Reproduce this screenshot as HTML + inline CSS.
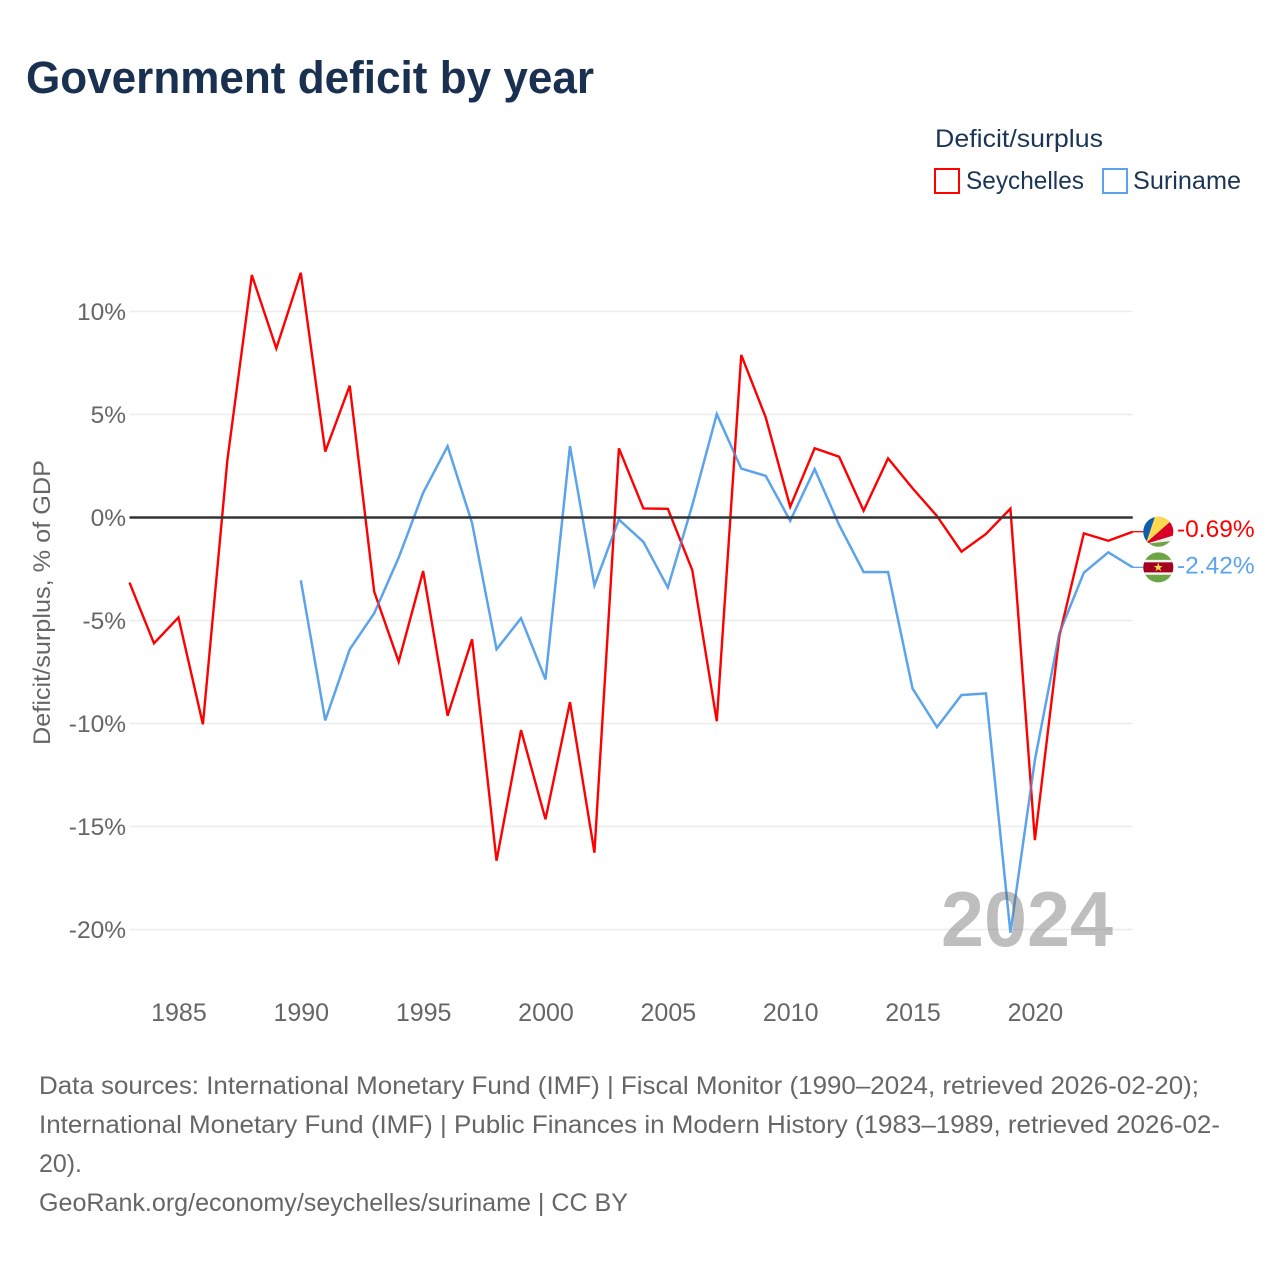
<!DOCTYPE html>
<html lang="en">
<head>
<meta charset="utf-8">
<title>Government deficit by year</title>
<style>
html,body{margin:0;padding:0;background:#fff;}
svg{display:block;font-family:"Liberation Sans",sans-serif;}
.tick{font-size:24.5px;fill:#666;}
.xtick{font-size:25px;fill:#666;}
.foot{font-size:25px;fill:#666;}
.leg{font-size:25px;fill:#1c3557;}
</style>
</head>
<body>
<svg id="chart" xmlns="http://www.w3.org/2000/svg" width="1280" height="1280" viewBox="0 0 1280 1280">
  <rect x="0" y="0" width="1280" height="1280" fill="#fff"/>
  <text x="26" y="93" font-size="45" font-weight="700" fill="#1a3050" textLength="568" lengthAdjust="spacingAndGlyphs">Government deficit by year</text>

  <g>
    <text class="leg" x="935" y="147" textLength="168" lengthAdjust="spacingAndGlyphs">Deficit/surplus</text>
    <rect x="935" y="169" width="24" height="24" fill="none" stroke="#ff0000" stroke-width="2"/>
    <text class="leg" x="966" y="189" textLength="118" lengthAdjust="spacingAndGlyphs">Seychelles</text>
    <rect x="1103" y="169" width="24" height="24" fill="none" stroke="#5ba4ec" stroke-width="2"/>
    <text class="leg" x="1133" y="189" textLength="108" lengthAdjust="spacingAndGlyphs">Suriname</text>
  </g>

  <g id="grid"></g>
  <g id="yticks"></g>
  <g id="xticks"></g>
  <text class="tick" transform="translate(50,745) rotate(-90)" x="0" y="0" textLength="285" lengthAdjust="spacingAndGlyphs">Deficit/surplus, % of GDP</text>

  <g id="series"></g>
  <g id="zero"></g>

  <text x="941" y="946" font-size="78" font-weight="700" fill="rgba(100,100,100,0.42)" textLength="172" lengthAdjust="spacingAndGlyphs">2024</text>

  <defs>
    <clipPath id="clip-sc" clipPathUnits="userSpaceOnUse"><circle cx="0" cy="0" r="15"/></clipPath>
  </defs>
  <g id="flag-sc">
    <g clip-path="url(#clip-sc)">
      <rect x="-16" y="-16" width="32" height="32" fill="#6da544"/>
      <polygon points="-16,16 -16,-16 -3,-16 -12,11" fill="#0d5eaf"/>
      <polygon points="-12,11 -3,-16 16,-16 16,-13.5" fill="#ffd84f"/>
      <polygon points="-16,14 -12,11 16,-13.5 16,3.5" fill="#d80027"/>
      <polygon points="-12,12 16,3.5 16,9" fill="#f0f0f0"/>
    </g>
  </g>
  <g id="flag-sr">
    <g clip-path="url(#clip-sc)">
      <rect x="-16" y="-16" width="32" height="32" fill="#6da544"/>
      <rect x="-16" y="-7.5" width="32" height="15" fill="#f0f0f0"/>
      <rect x="-16" y="-5" width="32" height="10" fill="#a2001d"/>
      <polygon points="0,-4.6 1.2,-1.4 4.5,-1.4 1.8,0.6 2.8,3.9 0,1.9 -2.8,3.9 -1.8,0.6 -4.5,-1.4 -1.2,-1.4" fill="#ffda44"/>
    </g>
  </g>

  <g>
    <text class="foot" x="39" y="1094" textLength="1160" lengthAdjust="spacingAndGlyphs">Data sources: International Monetary Fund (IMF) | Fiscal Monitor (1990–2024, retrieved 2026-02-20);</text>
    <text class="foot" x="39" y="1133" textLength="1181" lengthAdjust="spacingAndGlyphs">International Monetary Fund (IMF) | Public Finances in Modern History (1983–1989, retrieved 2026-02-</text>
    <text class="foot" x="39" y="1172" textLength="43" lengthAdjust="spacingAndGlyphs">20).</text>
    <text class="foot" x="39" y="1211" textLength="589" lengthAdjust="spacingAndGlyphs">GeoRank.org/economy/seychelles/suriname | CC BY</text>
  </g>
</svg>
<script>
const years = [1983,1984,1985,1986,1987,1988,1989,1990,1991,1992,1993,1994,1995,1996,1997,1998,1999,2000,2001,2002,2003,2004,2005,2006,2007,2008,2009,2010,2011,2012,2013,2014,2015,2016,2017,2018,2019,2020,2021,2022,2023,2024];
const seychellesValues = [-3.16,-6.11,-4.85,-10.04,2.79,11.77,8.21,11.88,3.2,6.4,-3.6,-7.0,-2.6,-9.62,-5.91,-16.66,-10.32,-14.65,-8.96,-16.27,3.36,0.44,0.42,-2.56,-9.89,7.89,4.86,0.52,3.36,2.95,0.33,2.87,1.42,0.07,-1.66,-0.8,0.43,-15.66,-5.75,-0.77,-1.13,-0.69];
const surinameValues = [null,null,null,null,null,null,null,-3.05,-9.85,-6.4,-4.65,-1.95,1.2,3.46,-0.27,-6.4,-4.89,-7.86,3.46,-3.3,-0.1,-1.18,-3.4,0.6,5.02,2.38,2.02,-0.16,2.35,-0.36,-2.65,-2.65,-8.3,-10.18,-8.62,-8.54,-20.15,-11.77,-5.62,-2.68,-1.69,-2.42];
const yTickValues = [10,5,0,-5,-10,-15,-20];
const xTickYears = [1985,1990,1995,2000,2005,2010,2015,2020];

const NS = 'http://www.w3.org/2000/svg';
const xScale = function (year) { return 129.5 + 24.47 * (year - 1983); };
const yScale = function (v) { return 517.5 - 20.6 * v; };
const plotLeft = xScale(1983);
const plotRight = xScale(2024);

function make(parent, tag, attrs, text) {
  const el = document.createElementNS(NS, tag);
  for (const k in attrs) { el.setAttribute(k, attrs[k]); }
  if (text !== undefined) { el.textContent = text; }
  document.getElementById(parent).appendChild(el);
  return el;
}

yTickValues.forEach(function (v) {
  if (v !== 0) {
    const g = make('grid', 'line', {x1: plotLeft, x2: plotRight, y1: yScale(v), y2: yScale(v), stroke: '#ececec', 'stroke-width': 1.5});
    
    
  }
  const t = make('yticks', 'text', {x: 126, y: yScale(v) + 8.5, 'text-anchor': 'end', 'class': 'tick'}, v + '%');
  
  
});

xTickYears.forEach(function (yr) {
  const t = make('xticks', 'text', {x: xScale(yr) + 0.5, y: 1021, 'text-anchor': 'middle', 'class': 'xtick'}, String(yr));
  
  
});

function linePath(values) {
  let d = '';
  values.forEach(function (v, i) {
    if (v === null) { return; }
    d += (d === '' ? 'M' : 'L') + xScale(years[i]).toFixed(2) + ' ' + yScale(v).toFixed(2);
  });
  return d;
}

const surLine = make('series', 'path', {d: linePath(surinameValues), fill: 'none', stroke: '#5ba4ec', 'stroke-width': 2.4});


const seyLine = make('series', 'path', {d: linePath(seychellesValues), fill: 'none', stroke: '#ff0000', 'stroke-width': 2.4});


const surLine2 = make('series', 'path', {d: linePath(surinameValues), fill: 'none', stroke: '#5ba4ec', 'stroke-width': 2.4, opacity: 0.55});



const zeroLine = make('zero', 'line', {x1: plotLeft, x2: plotRight, y1: yScale(0), y2: yScale(0), stroke: '#333', 'stroke-width': 2.4});



const seyLast = seychellesValues[seychellesValues.length - 1];
const surLast = surinameValues[surinameValues.length - 1];

const seyConn = make('series', 'line', {x1: plotRight, x2: 1145, y1: yScale(seyLast), y2: yScale(seyLast), stroke: '#ff0000', 'stroke-width': 1.3});


const surConn = make('series', 'line', {x1: plotRight, x2: 1145, y1: yScale(surLast), y2: yScale(surLast), stroke: '#5ba4ec', 'stroke-width': 1.3});



document.getElementById('flag-sc').setAttribute('transform', 'translate(1158.3,' + yScale(seyLast).toFixed(2) + ')');
document.getElementById('flag-sr').setAttribute('transform', 'translate(1158.3,' + yScale(surLast).toFixed(2) + ')');

const seyLabel = make('series', 'text', {x: 1177, y: yScale(seyLast) + 5.5, 'font-size': 24.5, fill: '#ff0000'}, seyLast.toFixed(2) + '%');


const surLabel = make('series', 'text', {x: 1177, y: yScale(surLast) + 6, 'font-size': 24.5, fill: '#5ba4ec'}, surLast.toFixed(2) + '%');


</script>
</body>
</html>
